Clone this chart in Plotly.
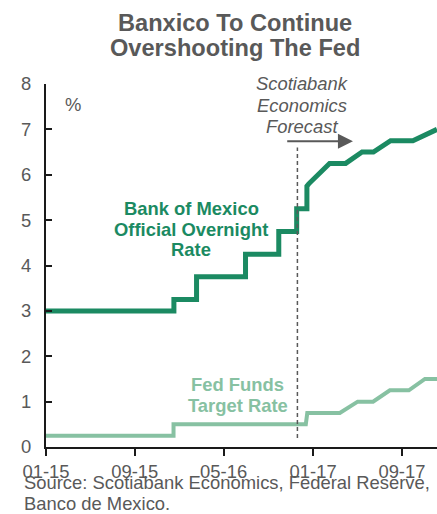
import plotly.graph_objects as go

# ---- data ----
banxico_dates = ["2015-01-01", "2015-12-17", "2015-12-17", "2016-02-17", "2016-02-17",
                 "2016-06-30", "2016-06-30", "2016-09-29", "2016-09-29", "2016-11-17",
                 "2016-11-17", "2016-12-15", "2016-12-15", "2016-12-20", "2017-02-15",
                 "2017-03-31", "2017-05-15", "2017-06-15", "2017-08-01", "2017-10-01",
                 "2017-12-06"]
banxico_values = [3.0, 3.0, 3.25, 3.25, 3.75, 3.75, 4.25, 4.25, 4.75, 4.75,
                  5.25, 5.25, 5.75, 5.8, 6.25, 6.25, 6.5, 6.5, 6.75, 6.75, 7.0]

fed_dates = ["2015-01-01", "2015-12-16", "2015-12-16", "2016-12-12", "2016-12-16",
             "2017-03-15", "2017-05-03", "2017-06-14", "2017-07-30", "2017-09-20",
             "2017-11-03", "2017-12-06"]
fed_values = [0.25, 0.25, 0.5, 0.5, 0.75, 0.75, 1.0, 1.0, 1.25, 1.25, 1.5, 1.5]

tick_dates = ["2015-01-01", "2015-09-01", "2016-05-01", "2017-01-01", "2017-09-01"]
tick_labels = ["01-15", "09-15", "05-16", "01-17", "09-17"]
y_ticks = [0, 1, 2, 3, 4, 5, 6, 7, 8]

title_lines = ["Banxico To Continue", "Overshooting The Fed"]
forecast_lines = ["Scotiabank", "Economics", "Forecast"]
banxico_label = ["Bank of Mexico", "Official Overnight", "Rate"]
fed_label = ["Fed Funds", "Target Rate"]
source_lines = ["Source: Scotiabank Economics, Federal Reserve,", "Banco de Mexico."]

forecast_start = "2016-11-19"

DARK = "#1b8a62"
LIGHT = "#87c1a2"
GRAY = "#595959"
FONT = "Liberation Sans, Arial, sans-serif"
FS = 18.4

W, H = 437, 514
# plot area in page pixels
PL, PR, PT, PB = 46, 437, 84, 447


def px(sx):
    return (sx - PL) / (PR - PL)


def py(sy):
    return (PB - sy) / (PB - PT)


fig = go.Figure()
fig.add_trace(go.Scatter(x=fed_dates, y=fed_values, mode="lines",
                         line=dict(color=LIGHT, width=4), showlegend=False))
fig.add_trace(go.Scatter(x=banxico_dates, y=banxico_values, mode="lines",
                         line=dict(color=DARK, width=5), showlegend=False))

# forecast divider
fig.add_shape(type="line", xref="x", yref="y", x0=forecast_start, x1=forecast_start,
              y0=0.2, y1=6.6, line=dict(color=GRAY, width=1.5, dash="4px,3px"))

fig.add_annotation(xref="x", yref="y", x="2017-04-20", y=6.74, ax="2016-10-18", ay=6.74,
                   axref="x", ayref="y", text="", showarrow=True, arrowhead=2,
                   arrowsize=1.5, arrowwidth=2, arrowcolor=GRAY)


def add_lines(lines, cx, ys, color, bold=False, italic=False, size=FS, anchor="center"):
    for line, sy in zip(lines, ys):
        t = line
        if bold:
            t = "<b>" + t + "</b>"
        if italic:
            t = "<i>" + t + "</i>"
        fig.add_annotation(xref="paper", yref="paper", x=px(cx), y=py(sy),
                           xanchor=anchor, yanchor="middle", text=t, showarrow=False,
                           font=dict(family=FONT, size=size, color=color))


add_lines(title_lines, 235, [23, 48], GRAY, bold=True, size=23.6)
add_lines(forecast_lines, 301.5, [83.5, 105, 126.5], GRAY, italic=True)
add_lines(banxico_label, 191, [208, 229, 250], DARK, bold=True)
add_lines(fed_label, 237.5, [384, 405], LIGHT, bold=True)
add_lines(["%"], 73, [104.5], GRAY)
add_lines(source_lines, 22, [482.5, 503], GRAY, anchor="left")

fig.update_layout(
    width=W, height=H,
    margin=dict(l=PL, r=W - PR, t=PT, b=H - PB),
    plot_bgcolor="white", paper_bgcolor="white",
    font=dict(family=FONT, color=GRAY),
    xaxis=dict(type="date", range=["2015-01-01", "2017-12-06"], tickvals=tick_dates,
               ticktext=tick_labels, ticks="outside", ticklen=7, tickwidth=1.5,
               tickcolor="#1a1a1a", showline=True, linecolor="#1a1a1a", linewidth=2,
               showgrid=False, zeroline=False, tickfont=dict(size=FS, color=GRAY)),
    yaxis=dict(range=[0, 8], tickvals=y_ticks, ticks="inside", ticklen=6, tickwidth=1.5,
               tickcolor="#1a1a1a", showline=True, linecolor="#1a1a1a", linewidth=2,
               showgrid=False, zeroline=False, ticklabelstandoff=9,
               tickfont=dict(size=FS, color=GRAY)),
)

fig.write_html(
    "out.html",
    config={"displayModeBar": False},
    post_script=(
        "document.body.style.margin='0';"
        "document.documentElement.style.overflow='hidden';"
        "var gd=document.getElementById('{plot_id}');"
        "Plotly.relayout(gd,{width:%d,height:%d});" % (W, H)
    ),
)
